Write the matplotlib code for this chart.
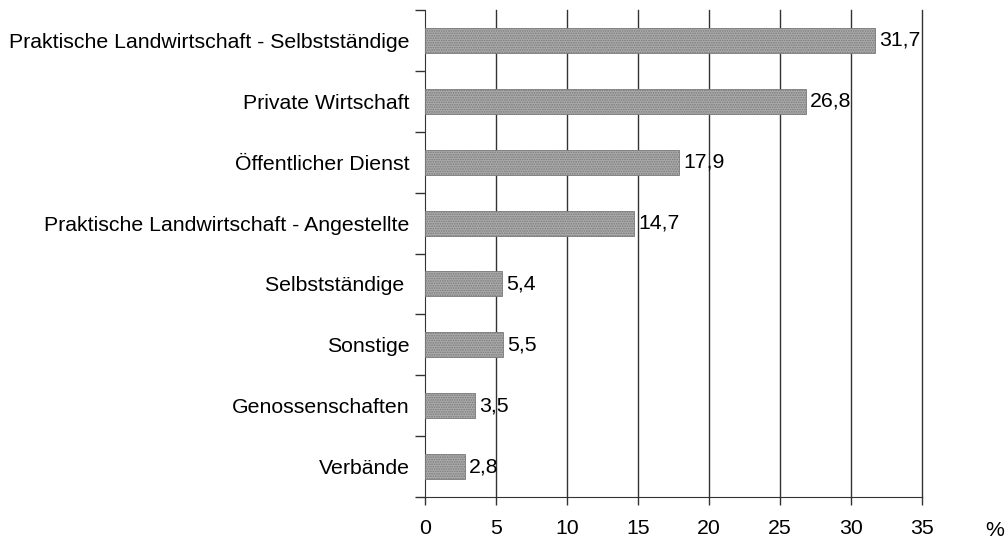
import matplotlib
matplotlib.use("Agg")
import matplotlib.pyplot as plt
import numpy as np

categories = ["Praktische Landwirtschaft - Selbstständige", "Private Wirtschaft",
              "Öffentlicher Dienst", "Praktische Landwirtschaft - Angestellte",
              "Selbstständige ", "Sonstige", "Genossenschaften", "Verbände"]
values = [31.7, 26.8, 17.9, 14.7, 5.4, 5.5, 3.5, 2.8]
value_labels = ["31,7", "26,8", "17,9", "14,7", "5,4", "5,5", "3,5", "2,8"]
xticks = [0, 5, 10, 15, 20, 25, 30, 35]

plt.rcParams['font.family'] = ['Liberation Sans', 'DejaVu Sans']
plt.rcParams['hatch.color'] = '#5e5e5e'
plt.rcParams['hatch.linewidth'] = 0.8

FS = 15.3

fig = plt.figure(figsize=(10.07, 5.42), dpi=100)
ax = fig.add_axes([425/1007, 1-497/542, (922-425)/1007, (497-10)/542])

n = len(categories)
y = np.arange(n)
ax.barh(y, values, height=0.41, color='#ababab', edgecolor='#7a7a7a',
        hatch='.......', linewidth=0.6, zorder=3)
for yi, v, lab in zip(y, values, value_labels):
    ax.text(v + 0.3, yi, lab, va='center', ha='left', fontsize=FS, zorder=4)

ax.set_xlim(0, 35)
ax.set_ylim(n - 0.5, -0.5)
ax.set_xticks(xticks)
ax.set_xticklabels([str(t) for t in xticks], fontsize=FS)
ax.set_yticks(y)
ax.set_yticklabels(categories, fontsize=FS)
ax.tick_params(axis='y', which='major', length=0, pad=11)
ax.set_yticks(np.arange(-0.5, n, 1.0), minor=True)
ax.tick_params(axis='y', which='minor', length=7, width=1, color='#333333')
ax.tick_params(axis='x', length=6, width=1, color='#333333', pad=10)

for t in xticks[1:]:
    ax.axvline(t, color='#333333', lw=1, zorder=1, clip_on=False)

for s in ['top', 'right']:
    ax.spines[s].set_visible(False)
ax.spines['left'].set_color('#333333')
ax.spines['bottom'].set_color('#333333')

fig.text(995/1007, 2/542, '%', fontsize=FS, ha='center', va='bottom')

fig.savefig('out.png', dpi=100)
